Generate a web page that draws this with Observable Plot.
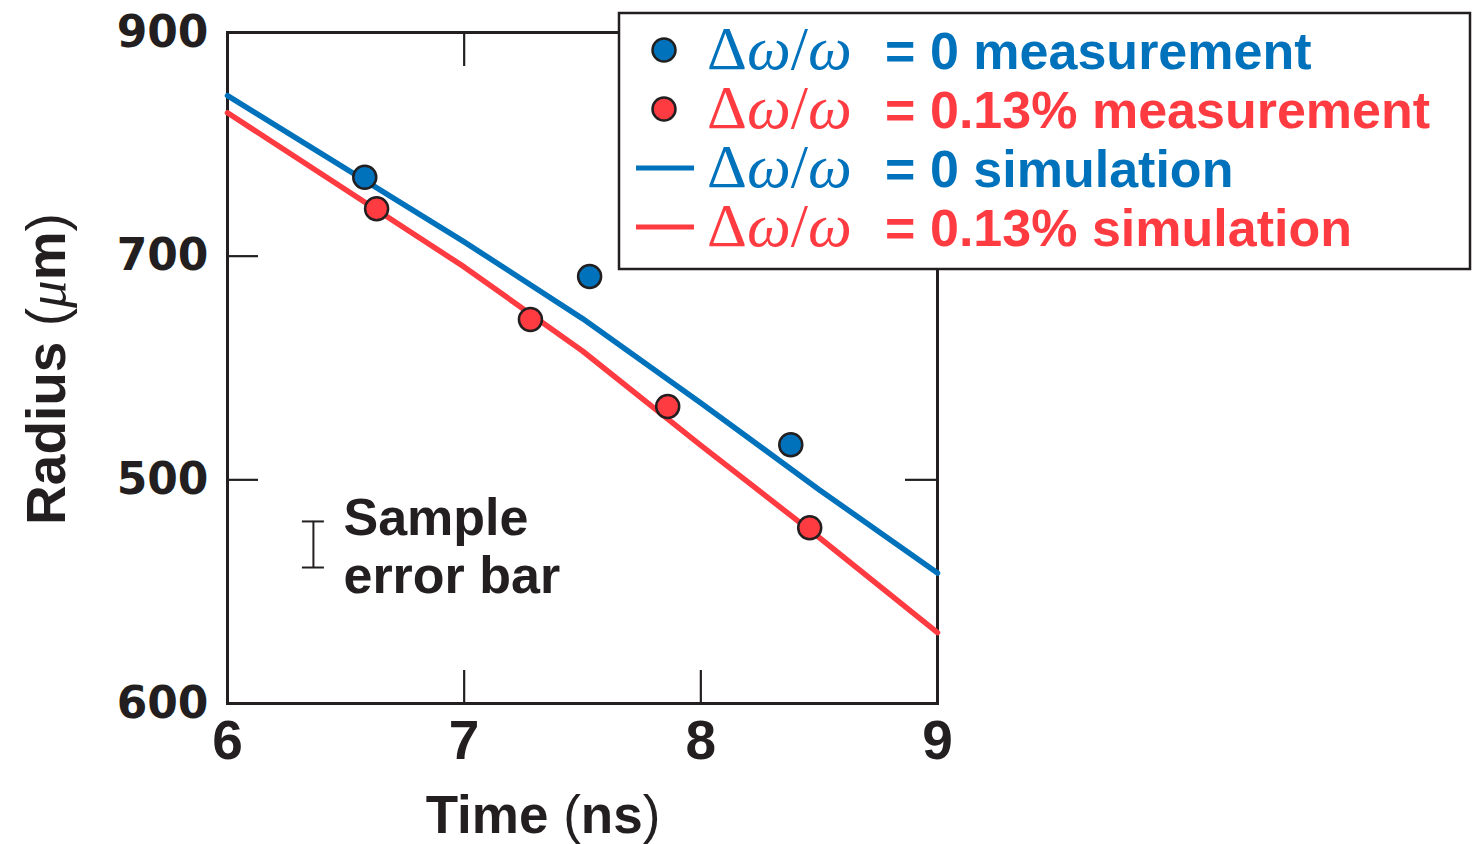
<!DOCTYPE html>
<html>
<head>
<meta charset="utf-8">
<script src="https://cdn.jsdelivr.net/npm/d3@7"></script>
<script src="https://cdn.jsdelivr.net/npm/@observablehq/plot@0.6"></script>
<style>
  html, body { margin: 0; padding: 0; background: #fff; overflow: hidden; }
  #chart svg { display: block; }
</style>
</head>
<body>
<div id="chart"></div>
<script>
// ---- data ----
const xTicks = [6, 7, 8, 9];
const yTicks = [600, 700, 800, 900];
const yTickLabels = ["600", "500", "700", "900"]; // as printed in the figure
const innerXTicks = [7, 8];
const innerYTicks = [700, 800];

const blueMeasT = [6.58, 7.53, 8.38];
const blueMeasR = [835.3, 790.9, 715.7];
const redMeasT = [6.63, 7.28, 7.86, 8.46];
const redMeasR = [821.2, 771.7, 732.8, 678.6];

const simT = [6, 7, 7.5, 8, 8.5, 9];
const blueSimR = [871.8, 806.4, 772.1, 734.4, 695.6, 658.3];
const redSimR = [864.1, 795.2, 757.6, 715.4, 674.2, 631.7];

const errBarT = [6.363];
const errBarLo = [660.8];
const errBarHi = [681.4];
const errNoteT = [6.49];
const errNoteR = [649.2];
const errNoteText = ["Sample\nerror bar"];

const legendKinds = ["dot", "dot", "line", "line"];
const legendSeries = ["blue", "red", "blue", "red"];
const legendValues = ["0 measurement", "0.13% measurement", "0 simulation", "0.13% simulation"];

const xLabelParts = ["Time ", "(", "ns", ")"];
const yLabelParts = ["Radius ", "(", "\u03BC", "m", ")"];

// ---- styles ----
const BLUE = "#0072bc";
const RED = "#ff3b42";
const INK = "#231f20";
const SANS = "'Liberation Sans', Arial, Helvetica, sans-serif";
const SERIF = "'Liberation Serif', 'DejaVu Serif', serif";

const W = 1476, H = 844;
const mL = 227, mR = 539, mT = 32, mB = 141;
const innerW = W - mL - mR, innerH = H - mT - mB;

const blueMeas = blueMeasT.map((t, i) => ({t, r: blueMeasR[i]}));
const redMeas = redMeasT.map((t, i) => ({t, r: redMeasR[i]}));
const blueSim = simT.map((t, i) => ({t, r: blueSimR[i]}));
const redSim = simT.map((t, i) => ({t, r: redSimR[i]}));
const errBar = errBarT.map((t, i) => ({t, lo: errBarLo[i], hi: errBarHi[i]}));
const errNote = errNoteT.map((t, i) => ({t, r: errNoteR[i], text: errNoteText[i]}));

const chart = Plot.plot({
  width: W,
  height: H,
  marginLeft: mL,
  marginRight: mR,
  marginTop: mT,
  marginBottom: mB,
  style: {fontFamily: SANS, background: "white", color: INK},
  x: {domain: [6, 9]},
  y: {domain: [600, 900]},
  marks: [
    Plot.axisX({ticks: xTicks, tickSize: 0, tickPadding: 16, label: null,
      fontSize: 55, fontWeight: "bold", fontFamily: SANS, tickFormat: d => String(d)}),
    Plot.axisY({ticks: yTicks, tickSize: 0, tickPadding: 19, label: null,
      fontSize: 44, fontWeight: "bold", fontFamily: "'DejaVu Sans', Verdana, sans-serif",
      tickFormat: d => yTickLabels[yTicks.indexOf(d)]}),
    // inward ticks
    Plot.ruleX(innerXTicks, {x: d => d, insetTop: innerH - 33, stroke: INK, strokeWidth: 2.2}),
    Plot.ruleX(innerXTicks, {x: d => d, insetBottom: innerH - 34, stroke: INK, strokeWidth: 2.2}),
    Plot.ruleY(innerYTicks, {y: d => d, insetRight: innerW - 31, stroke: INK, strokeWidth: 2.2}),
    Plot.ruleY(innerYTicks, {y: d => d, insetLeft: innerW - 32, stroke: INK, strokeWidth: 2.2}),
    Plot.frame({stroke: INK, strokeWidth: 3}),
    // simulations
    Plot.line(blueSim, {x: "t", y: "r", stroke: BLUE, strokeWidth: 5.5, curve: "linear"}),
    Plot.line(redSim, {x: "t", y: "r", stroke: RED, strokeWidth: 5.5, curve: "linear"}),
    // measurements
    Plot.dot(blueMeas, {x: "t", y: "r", r: 11.5, fill: BLUE, stroke: INK, strokeWidth: 2.5}),
    Plot.dot(redMeas, {x: "t", y: "r", r: 11.5, fill: RED, stroke: INK, strokeWidth: 2.5}),
    // sample error bar
    Plot.ruleX(errBar, {x: "t", y1: "lo", y2: "hi", stroke: INK, strokeWidth: 2}),
    Plot.ruleY(errBar, {y: "lo", x1: "t", x2: "t", insetLeft: -11, insetRight: -11, stroke: INK, strokeWidth: 2}),
    Plot.ruleY(errBar, {y: "hi", x1: "t", x2: "t", insetLeft: -11, insetRight: -11, stroke: INK, strokeWidth: 2}),
    Plot.text(errNote, {x: "t", y: "r", text: "text", textAnchor: "start", lineAnchor: "bottom",
      lineHeight: 1.115, fontSize: 52, fontWeight: "bold", fill: INK})
  ]
});

document.getElementById("chart").appendChild(chart);

const svg = d3.select(chart);

// x axis label
const xl = svg.append("text")
  .attr("x", 543).attr("y", 833)
  .attr("text-anchor", "middle")
  .attr("font-family", SANS).attr("font-size", 53).attr("fill", INK);
xLabelParts.forEach(p => {
  xl.append("tspan").text(p).attr("font-weight", (p === "(" || p === ")") ? "normal" : "bold");
});

// y axis label
const yl = svg.append("text")
  .attr("transform", "translate(65,369) rotate(-90)")
  .attr("text-anchor", "middle")
  .attr("font-family", SANS).attr("font-size", 55).attr("fill", INK);
yLabelParts.forEach(p => {
  const ts = yl.append("tspan").text(p);
  if (p === "(" || p === ")") ts.attr("font-weight", "normal");
  else if (p === "\u03BC") ts.attr("font-family", SERIF).attr("font-style", "italic").attr("font-weight", "normal");
  else ts.attr("font-weight", "bold");
});

// legend
const lg = svg.append("g").attr("text-anchor", "start");
lg.append("rect").attr("x", 619).attr("y", 13).attr("width", 851).attr("height", 256)
  .attr("fill", "white").attr("stroke", INK).attr("stroke-width", 2.5);
const rowY = [50, 109, 168, 227];
legendKinds.forEach((kind, i) => {
  const c = legendSeries[i] === "blue" ? BLUE : RED;
  const cy = rowY[i];
  if (kind === "dot") {
    lg.append("circle").attr("cx", 664).attr("cy", cy).attr("r", 11.5)
      .attr("fill", c).attr("stroke", INK).attr("stroke-width", 2.5);
  } else {
    lg.append("line").attr("x1", 636).attr("x2", 694).attr("y1", cy).attr("y2", cy)
      .attr("stroke", c).attr("stroke-width", 5);
  }
  const sym = lg.append("text").attr("x", 707).attr("y", cy + 19).attr("text-anchor", "start")
    .attr("font-family", SERIF).attr("font-size", 62).attr("fill", c);
  sym.append("tspan").text("\u0394");
  sym.append("tspan").text("\u03C9").attr("font-style", "italic");
  sym.append("tspan").text("/");
  sym.append("tspan").text("\u03C9").attr("font-style", "italic");
  lg.append("text").attr("x", 885).attr("y", cy + 19).attr("text-anchor", "start")
    .attr("font-family", SANS).attr("font-weight", "bold").attr("font-size", 52).attr("fill", c)
    .text("=");
  lg.append("text").attr("x", 930).attr("y", cy + 19).attr("text-anchor", "start")
    .attr("font-family", SANS).attr("font-weight", "bold").attr("font-size", 52).attr("fill", c)
    .text(legendValues[i]);
});
</script>
</body>
</html>
